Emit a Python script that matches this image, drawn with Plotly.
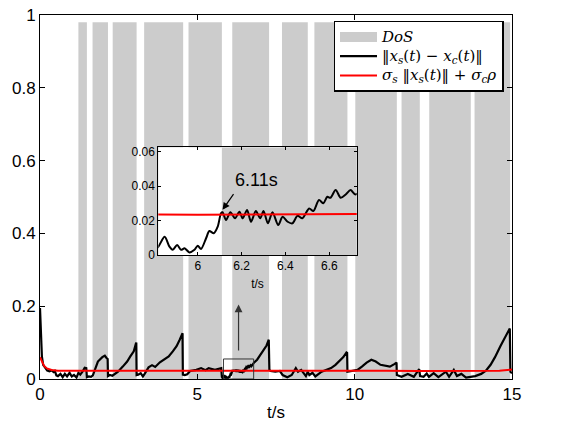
import plotly.graph_objects as go

# ---------------- data ----------------
DOS_START = [1.22, 1.67, 2.31, 3.31, 4.72, 6.11, 7.69, 8.72, 10.02, 11.49, 12.37, 13.81]
DOS_END = [1.49, 2.16, 3.07, 4.55, 5.78, 7.28, 8.51, 9.77, 11.34, 12.07, 13.69, 14.94]
DOS_LEVEL = 0.98

T_ERR = [0.00, 0.02, 0.03, 0.06, 0.10, 0.16, 0.23, 0.30, 0.37, 0.43, 0.47, 0.52, 0.57, 0.65, 0.72,
         0.79, 0.86, 0.94, 1.01, 1.08, 1.16, 1.22, 1.28, 1.35, 1.42, 1.47, 1.49, 1.55, 1.62, 1.68,
         1.75, 1.84, 1.98, 2.06, 2.12, 2.15, 2.16, 2.22, 2.30, 2.36, 2.48, 2.63, 2.77, 2.87, 2.98,
         3.05, 3.06, 3.07, 3.12, 3.20, 3.27, 3.33, 3.45, 3.56, 3.66, 3.81, 3.95, 4.09, 4.22, 4.34,
         4.44, 4.53, 4.54, 4.60, 4.68, 4.77, 4.97, 5.12, 5.26, 5.36, 5.56, 5.70, 5.76, 5.78, 5.80,
         5.82, 5.849, 5.871, 5.886, 5.906, 5.924, 5.94, 5.962, 5.985, 6.0, 6.015, 6.038, 6.053,
         6.073, 6.091, 6.106, 6.113, 6.129, 6.149, 6.17, 6.19, 6.205, 6.225, 6.243, 6.265, 6.285,
         6.30, 6.32, 6.341, 6.367, 6.387, 6.41, 6.432, 6.455, 6.477, 6.508, 6.527, 6.553, 6.573,
         6.591, 6.605, 6.629, 6.652, 6.675, 6.697, 6.72, 6.80, 6.90, 7.00, 7.10, 7.20, 7.27, 7.29,
         7.33, 7.48, 7.62, 7.71, 7.86, 8.00, 8.13, 8.20, 8.30, 8.40, 8.45, 8.51, 8.56, 8.66, 8.75,
         8.95, 9.10, 9.25, 9.39, 9.54, 9.64, 9.74, 9.76, 9.77, 9.90, 10.00, 10.09, 10.23, 10.38,
         10.53, 10.67, 10.82, 10.97, 11.12, 11.26, 11.33, 11.34, 11.42, 11.49, 11.69, 11.88, 12.05,
         12.08, 12.19, 12.29, 12.36, 12.51, 12.66, 12.81, 12.90, 13.00, 13.15, 13.25, 13.39, 13.54,
         13.69, 13.83, 14.02, 14.17, 14.32, 14.46, 14.63, 14.78, 14.88, 14.93, 14.95, 15.00]
ERR = [0.195, 0.15, 0.126, 0.062, 0.039, 0.030, 0.023, 0.021, 0.024, 0.019, 0.022, 0.010, 0.008, 0.014, 0.005,
       0.014, 0.007, 0.017, 0.007, 0.011, 0.004, 0.017, 0.012, 0.020, 0.031, 0.030, 0.005, 0.007, 0.006, 0.010,
       0.028, 0.048, 0.060, 0.064, 0.057, 0.055, 0.008, 0.011, 0.009, 0.012, 0.020, 0.034, 0.048, 0.062, 0.076,
       0.098, 0.100, 0.011, 0.012, 0.016, 0.007, 0.015, 0.032, 0.038, 0.033, 0.046, 0.053, 0.062, 0.076, 0.090,
       0.108, 0.126, 0.012, 0.011, 0.013, 0.022, 0.025, 0.030, 0.024, 0.030, 0.025, 0.029, 0.030, 0.006, 0.003,
       0.0048, 0.0106, 0.0048, 0.0030, 0.0058, 0.0030, 0.0039, 0.0015, 0.0030, 0.0054, 0.0035, 0.0097, 0.0139,
       0.0126, 0.0164, 0.0242, 0.0248, 0.0203, 0.0248, 0.0213, 0.0251, 0.0213, 0.0261, 0.0193, 0.0255, 0.0213,
       0.0255, 0.0184, 0.0248, 0.0174, 0.0222, 0.0193, 0.0184, 0.0228, 0.0213, 0.0270, 0.0255, 0.0319, 0.0300,
       0.0338, 0.0332, 0.0377, 0.0332, 0.0351, 0.0377, 0.0351, 0.045, 0.053, 0.066, 0.078, 0.092, 0.108, 0.025,
       0.022, 0.020, 0.022, 0.011, 0.005, 0.011, 0.030, 0.020, 0.025, 0.015, 0.008, 0.020, 0.011, 0.017, 0.007,
       0.020, 0.025, 0.030, 0.039, 0.053, 0.060, 0.073, 0.072, 0.020, 0.022, 0.023, 0.025, 0.034, 0.045,
       0.053, 0.048, 0.039, 0.036, 0.034, 0.041, 0.045, 0.011, 0.008, 0.006, 0.014, 0.006, 0.027,
       0.008, 0.006, 0.015, 0.006, 0.016, 0.005, 0.014, 0.020, 0.006, 0.025, 0.008, 0.014, 0.004,
       0.006, 0.008, 0.014, 0.023, 0.039, 0.060, 0.090, 0.115, 0.130, 0.139, 0.020, 0.016]

T_BOUND = [0.0, 0.06, 0.13, 0.22, 0.37, 0.57, 1.0, 2.0, 3.0, 4.0, 5.0, 6.0, 7.0, 8.0, 9.0, 10.0,
           11.0, 12.0, 13.0, 14.0, 14.6, 15.0]
BOUND = [0.060, 0.048, 0.036, 0.029, 0.025, 0.023, 0.023, 0.023, 0.0235, 0.024, 0.0245, 0.0233,
         0.024, 0.023, 0.023, 0.0225, 0.023, 0.022, 0.022, 0.022, 0.023, 0.026]

X_TICKS = [0, 5, 10, 15]
Y_TICKS = [0, 0.2, 0.4, 0.6, 0.8, 1.0]
Y_TICKTEXT = ["0", "0.2", "0.4", "0.6", "0.8", "1"]
INSET_X_TICKS = [6.0, 6.2, 6.4, 6.6]
INSET_X_TICKTEXT = ["6", "6.2", "6.4", "6.6"]
INSET_Y_TICKS = [0, 0.02, 0.04, 0.06]
INSET_Y_TICKTEXT = ["0", "0.02", "0.04", "0.06"]

LEGEND_NAMES = [
    "<i>DoS</i>",
    "‖<i>x</i><sub><i>s</i></sub>(<i>t</i>) − <i>x</i><sub><i>c</i></sub>(<i>t</i>)‖",
    "<i>σ</i><sub><i>s</i></sub> ‖<i>x</i><sub><i>s</i></sub>(<i>t</i>)‖ + <i>σ</i><sub><i>c</i></sub><i>ρ</i>",
]

# ---------------- figure ----------------
centers = [(s + e) / 2 for s, e in zip(DOS_START, DOS_END)]
widths = [e - s for s, e in zip(DOS_START, DOS_END)]
GRAY = "#cccccc"
SANS = "Liberation Sans, Arial, sans-serif"
SERIF = "DejaVu Serif, Liberation Serif, serif"


def big(s):
    return '<span style="font-size:15px">' + s + "</span>"


INSET_X_RANGE = [5.82, 6.725]
INSET_Y_RANGE = [0, 0.0625]

fig = go.Figure()

# main DoS bars
fig.add_trace(go.Bar(x=centers, y=[DOS_LEVEL] * len(centers), width=widths, base=0,
                     marker=dict(color=GRAY, line=dict(width=0)), showlegend=False,
                     hoverinfo="skip", xaxis="x", yaxis="y"))
# legend proxy for DoS
fig.add_trace(go.Scatter(x=[None], y=[None], mode="lines", line=dict(color=GRAY, width=11),
                         name=big(LEGEND_NAMES[0]), xaxis="x", yaxis="y"))
fig.add_trace(go.Scatter(x=T_ERR, y=ERR, mode="lines", line=dict(color="black", width=2.2),
                         name=big(LEGEND_NAMES[1]), xaxis="x", yaxis="y"))
fig.add_trace(go.Scatter(x=T_BOUND, y=BOUND, mode="lines", line=dict(color="red", width=2),
                         name=big(LEGEND_NAMES[2]), xaxis="x", yaxis="y"))

# inset
fig.add_trace(go.Bar(x=centers, y=[INSET_Y_RANGE[1]] * len(centers), width=widths, base=0,
                     marker=dict(color=GRAY, line=dict(width=0)), showlegend=False,
                     hoverinfo="skip", xaxis="x2", yaxis="y2"))
fig.add_trace(go.Scatter(x=T_ERR, y=ERR, mode="lines",
                         line=dict(color="black", width=2, shape="spline", smoothing=0.8),
                         showlegend=False, xaxis="x2", yaxis="y2"))
fig.add_trace(go.Scatter(x=T_BOUND, y=BOUND, mode="lines", line=dict(color="red", width=2),
                         showlegend=False, xaxis="x2", yaxis="y2"))

axis_common = dict(showline=True, linecolor="black", linewidth=1, mirror="ticks",
                   ticks="inside", tickcolor="black", showgrid=False, zeroline=False,
                   automargin=False, ticklabeloverflow="allow")

# page body has an 8px default margin: the figure is sized/placed to compensate
fig.update_layout(
    width=557, height=417,
    margin=dict(l=32, r=53, t=7, b=46),
    paper_bgcolor="white", plot_bgcolor="white",
    font=dict(family=SANS, color="black"),
    barmode="overlay",
    xaxis=dict(domain=[0, 1], range=[0, 15], tickvals=X_TICKS, ticklen=5,
               tickfont=dict(size=17), title=dict(text="t/s", font=dict(size=17), standoff=2),
               anchor="y", **axis_common),
    yaxis=dict(domain=[0, 1], range=[0, 1], tickvals=Y_TICKS, ticktext=Y_TICKTEXT, ticklen=5,
               tickfont=dict(size=17), anchor="x", **axis_common),
    xaxis2=dict(domain=[0.2506, 0.671], range=INSET_X_RANGE, tickvals=INSET_X_TICKS,
                ticktext=INSET_X_TICKTEXT, ticklen=3, tickfont=dict(size=12),
                title=dict(text="t/s", font=dict(size=12), standoff=7),
                anchor="y2", **axis_common),
    yaxis2=dict(domain=[0.3407, 0.6365], range=INSET_Y_RANGE, tickvals=INSET_Y_TICKS,
                ticktext=INSET_Y_TICKTEXT, ticklen=3, tickfont=dict(size=12),
                anchor="x2", **axis_common),
    legend=dict(x=0.982, xanchor="right", y=0.984, yanchor="top", bgcolor="white",
                bordercolor="black", borderwidth=1.5, font=dict(family=SERIF, size=12.5),
                itemwidth=37, tracegroupgap=0),
    shapes=[dict(type="rect", xref="x", yref="y", x0=5.83, x1=6.79, y0=0, y1=0.055,
                 line=dict(color="#333333", width=1), fillcolor="rgba(0,0,0,0)")],
    annotations=[
        dict(xref="x", yref="y", x=6.31, y=0.205, ax=6.31, ay=0.055, axref="x", ayref="y",
             text=" ", showarrow=True, arrowhead=2, arrowsize=1.3, arrowwidth=1.2,
             arrowcolor="#333333"),
        dict(xref="x2", yref="y2", x=6.113, y=0.0262, ax=14, ay=-20, text=" ",
             showarrow=True, arrowhead=2, arrowsize=1.2, arrowwidth=1.2, arrowcolor="black"),
        dict(xref="x2", yref="y2", x=6.27, y=0.0435, text="6.11s", showarrow=False,
             font=dict(size=18, family=SANS, color="black")),
    ],
)

fig.write_html("out.html")
